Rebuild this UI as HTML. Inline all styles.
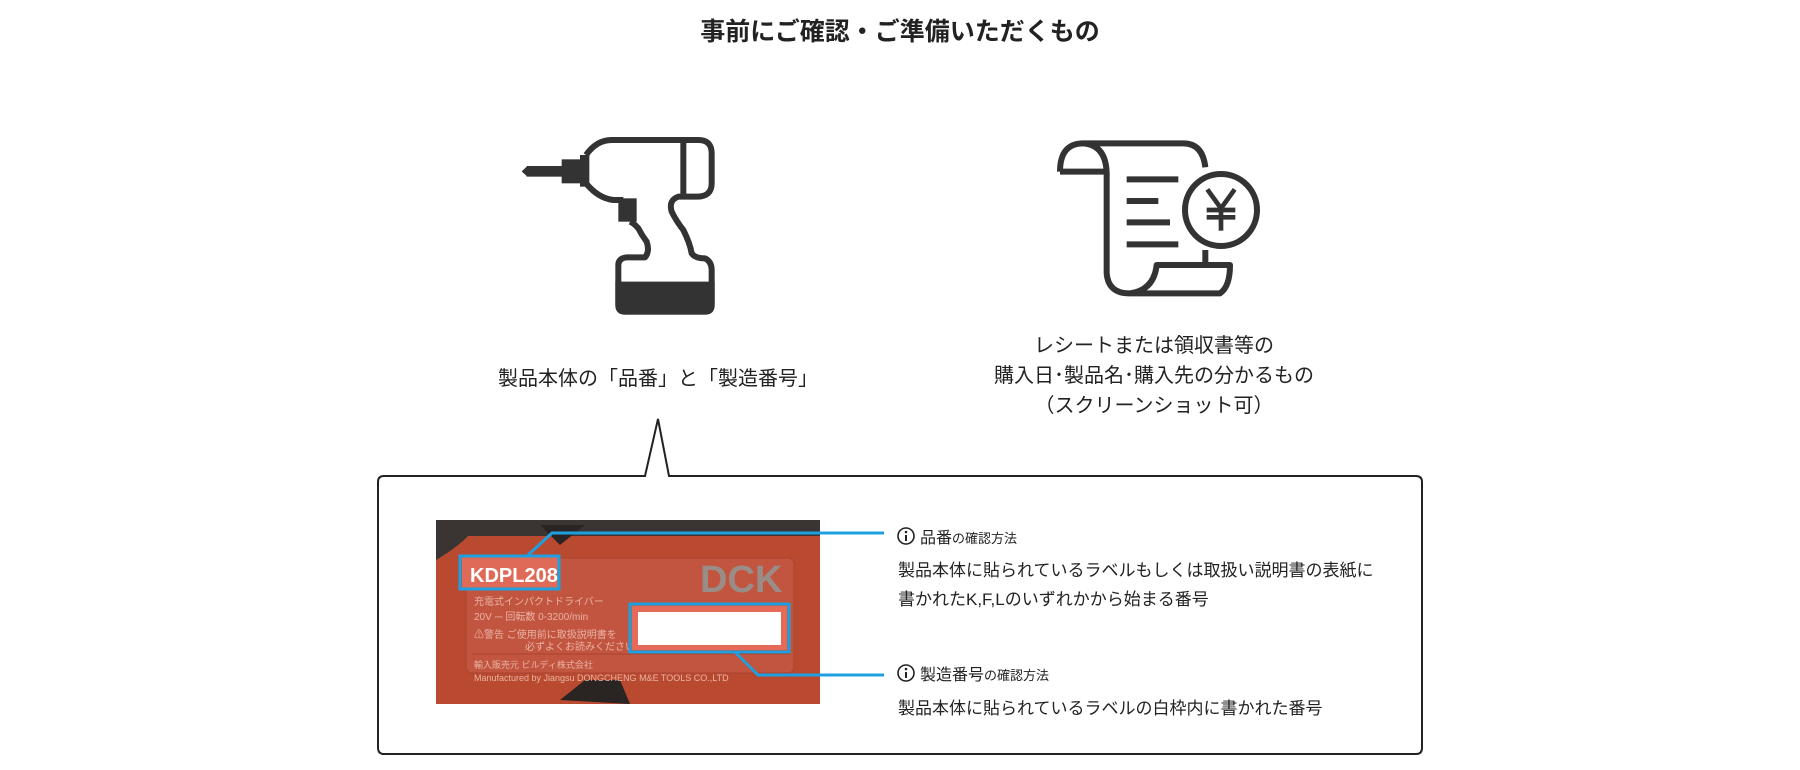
<!DOCTYPE html>
<html><head><meta charset="utf-8"><style>
body{margin:0;width:1800px;height:770px;background:#fff;position:relative;overflow:hidden;font-family:"Liberation Sans","Noto Sans CJK JP",sans-serif;color:#222}
.t{position:absolute;white-space:nowrap}
</style></head><body>
<div class="t" style="left:0;width:1800px;top:12px;text-align:center;font-size:25px;font-weight:bold;">事前にご確認・ご準備いただくもの</div>

<svg style="position:absolute;left:510px;top:130px" width="220" height="190" viewBox="0 0 660 570">
<g fill="none" stroke="#333" stroke-width="18" stroke-linejoin="round">
<path d="M228 75 Q260 30 305 30 H565 Q605 30 605 70 V160 Q605 200 560 200 H505 Q475 210 485 245 Q500 275 520 300 Q540 340 545 370 Q555 385 585 385 Q605 395 605 420 V525 Q605 545 585 545 H345 Q325 545 325 525 V405 Q325 385 350 382 H405 Q420 365 410 335 Q395 315 385 295 Q372 280 360 275"/>
<path d="M228 75 V160 Q265 205 310 210 H340"/>
<line x1="520" y1="30" x2="520" y2="200"/>
</g>
<rect x="325" y="205" width="55" height="70" fill="#333"/>
<rect x="155" y="88" width="65" height="72" fill="#333"/>
<rect x="210" y="75" width="28" height="95" fill="#333"/>
<rect x="50" y="108" width="110" height="32" fill="#333"/>
<polygon points="35,124 52,108 52,140" fill="#333"/>
<path d="M316 455 H614 V525 Q614 554 585 554 H345 Q316 554 316 525 Z" fill="#333"/>
</svg>

<svg style="position:absolute;left:1050px;top:130px" width="220" height="180" viewBox="0 0 660 540">
<g fill="none" stroke="#333" stroke-width="18" stroke-linejoin="round">
<path d="M30 125 Q30 40 100 40 H400 Q458 40 466 112"/>
<path d="M30 125 H165"/>
<path d="M100 40 Q168 45 170 130 V430 Q175 490 238 490 H510 Q540 470 540 405 H320 Q312 480 240 490"/>
<line x1="466" y1="360" x2="466" y2="405"/>
<circle cx="513" cy="240" r="108"/>
</g>
<g stroke="#333" stroke-width="18">
<line x1="230" y1="148" x2="385" y2="148"/><line x1="230" y1="213" x2="325" y2="213"/><line x1="230" y1="277" x2="360" y2="277"/><line x1="230" y1="343" x2="385" y2="343"/>
</g>
<g stroke="#333" stroke-width="14" fill="none">
<polyline points="472,178 513,235 554,178"/><line x1="513" y1="235" x2="513" y2="302"/><line x1="470" y1="240" x2="556" y2="240"/><line x1="470" y1="262" x2="556" y2="262"/>
</g>
</svg>

<div class="t" style="left:458px;width:400px;top:362px;text-align:center;font-size:20px;">製品本体の「品番」と「製造番号」</div>
<div class="t" style="left:954px;width:400px;top:331px;text-align:center;font-size:20px;line-height:30px;">レシートまたは領収書等の<br>購入日･製品名･購入先の分かるもの<br>（スクリーンショット可）</div>

<svg style="position:absolute;left:0;top:0" width="1800" height="770">
<path d="M384 476 H645 L658 419 L669 476 H1416 Q1422 476 1422 482 V748 Q1422 754 1416 754 H384 Q378 754 378 748 V482 Q378 476 384 476 Z" fill="#fff" stroke="#222" stroke-width="2"/>
</svg>

<svg style="position:absolute;left:436px;top:520px" width="384" height="184" viewBox="436 520 384 184">
<rect x="436" y="520" width="384" height="184" fill="#b94a30"/>
<rect x="436" y="520" width="384" height="16" fill="#3a3533"/>
<path d="M436 520 H480 Q470 540 436 560 Z" fill="#3a3533"/>
<path d="M540 525 L560 545 L585 525 Z" fill="#2a2422"/>
<path d="M560 700 L585 680 L620 680 L630 704 Z" fill="#2a2422"/>
<rect x="466" y="558" width="328" height="115" rx="6" fill="#c25540" stroke="#a94430"/>
<rect x="462" y="557" width="96" height="32" fill="#e06a58"/>
<text x="470" y="582" font-size="20" font-weight="bold" fill="#fff" font-family="Liberation Sans, sans-serif">KDPL208</text>
<text x="700" y="592" font-size="38" font-weight="bold" fill="#9a8d88" font-family="Liberation Sans, sans-serif">DCK</text>
<text x="474" y="605" font-size="10" fill="#e9b3a5" font-family="Liberation Sans, Noto Sans CJK JP, sans-serif">充電式インパクトドライバー</text>
<text x="474" y="620" font-size="10" fill="#e9b3a5" font-family="Liberation Sans, Noto Sans CJK JP, sans-serif">20V ⎓ 回転数 0-3200/min</text>
<text x="474" y="638" font-size="10" fill="#e9b3a5" font-family="Liberation Sans, Noto Sans CJK JP, sans-serif">⚠警告 ご使用前に取扱説明書を</text>
<text x="525" y="650" font-size="10" fill="#e9b3a5" font-family="Liberation Sans, Noto Sans CJK JP, sans-serif">必ずよくお読みください</text>
<line x1="472" y1="654" x2="790" y2="654" stroke="#a94430"/>
<text x="474" y="668" font-size="9" fill="#e9b3a5" font-family="Liberation Sans, Noto Sans CJK JP, sans-serif">輸入販売元 ビルディ株式会社</text>
<text x="474" y="681" font-size="9" fill="#e9b3a5" font-family="Liberation Sans, sans-serif">Manufactured by Jiangsu DONGCHENG M&amp;E TOOLS CO.,LTD</text>
<rect x="632" y="606" width="155" height="44" fill="#e56a58"/>
<rect x="638" y="612" width="143" height="33" fill="#fff"/>
</svg>

<svg style="position:absolute;left:0;top:0" width="1800" height="770" fill="none">
<g stroke="#1ea0e0" stroke-width="3">
<rect x="460" y="556" width="99" height="33"/>
<rect x="630" y="604" width="159" height="48"/>
<polyline points="527,556 552,533 884,533"/>
<polyline points="735,652 758,675 884,675"/>
</g>
<g stroke="#222" stroke-width="1.6"><circle cx="906" cy="536" r="8"/><circle cx="906" cy="673" r="8"/></g>
<g fill="#222"><circle cx="906" cy="532" r="1.3"/><rect x="905" y="535" width="2" height="6"/><circle cx="906" cy="669" r="1.3"/><rect x="905" y="672" width="2" height="6"/></g>
</svg>
<div class="t" style="left:920px;top:524px;font-size:16px;">品番<span style="font-size:13px">の確認方法</span></div>
<div class="t" style="left:898px;top:556px;font-size:17px;line-height:29px;">製品本体に貼られているラベルもしくは取扱い説明書の表紙に<br>書かれたK,F,Lのいずれかから始まる番号</div>
<div class="t" style="left:920px;top:661px;font-size:16px;">製造番号<span style="font-size:13px">の確認方法</span></div>
<div class="t" style="left:898px;top:694px;font-size:17px;">製品本体に貼られているラベルの白枠内に書かれた番号</div>
</body></html>
